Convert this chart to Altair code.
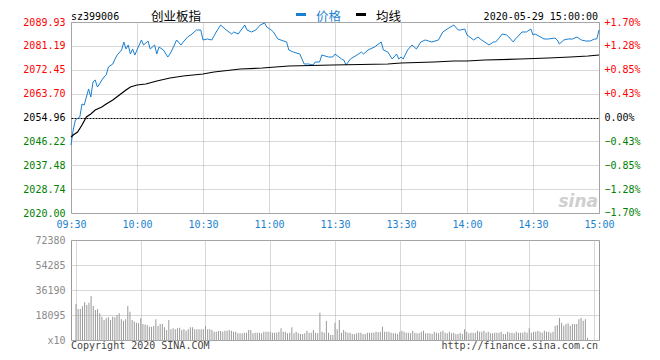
import altair as alt
import pandas as pd

prev_close = 2054.96
time_labels = ['09:30', '10:00', '10:30', '11:00', '11:30', '13:30', '14:00', '14:30', '15:00']
price_ticks = [2020.00, 2028.74, 2037.48, 2046.22, 2054.96, 2063.70, 2072.45, 2081.19, 2089.93]
pct_ticks = [-1.70, -1.28, -0.85, -0.43, 0.00, 0.43, 0.85, 1.28, 1.70]
vol_ticks = [0, 18095, 36190, 54285, 72380]

# price (minute index from 09:30, 0..240)
price_min = [0, 1, 2, 4, 5, 6, 7, 8, 9, 10, 11, 12, 13, 14, 15, 16, 17, 19, 20, 21,
             23, 24, 25, 26, 27, 28, 29, 30, 32, 33, 35, 36, 38, 39, 40, 42, 44, 45, 47, 48,
             50, 51, 53, 55, 57, 59, 60, 62, 64, 66, 68, 70, 73, 74, 76, 79, 80, 82, 84, 86,
             88, 89, 91, 92, 94, 98, 99, 101, 104, 106, 108, 110, 111, 113, 114, 117, 119, 120, 123, 124,
             125, 127, 130, 132, 133, 135, 138, 141, 142, 144, 146, 148, 149, 150, 151, 153, 155, 157, 159, 161,
             164, 167, 169, 171, 174, 176, 177, 179, 180, 183, 185, 186, 190, 192, 193, 195, 196, 198, 199, 201,
             202, 205, 207, 209, 210, 211, 215, 217, 220, 221, 222, 224, 226, 228, 230, 232, 234, 236, 238, 239,
             240]
price_val = [2044.90, 2050.39, 2054.05, 2055.15, 2059.91, 2059.54, 2062.47, 2065.40, 2062.47, 2067.96,
             2068.69, 2066.13, 2067.23, 2068.69, 2069.79, 2070.52, 2073.45, 2074.55, 2076.38, 2077.85,
             2079.68, 2082.61, 2080.04, 2081.51, 2078.21, 2080.04, 2077.85, 2079.68, 2083.34, 2081.51,
             2082.97, 2080.04, 2081.51, 2078.21, 2080.78, 2079.68, 2077.11, 2078.21, 2081.51, 2083.34,
             2081.51, 2082.61, 2084.44, 2085.54, 2087.00, 2087.00, 2083.34, 2083.71, 2083.34, 2086.27,
             2088.83, 2087.37, 2085.54, 2086.27, 2085.54, 2088.83, 2087.00, 2086.27, 2087.00, 2088.83,
             2089.56, 2088.10, 2087.00, 2086.27, 2083.71, 2082.61, 2079.68, 2078.95, 2078.21, 2074.55,
             2074.55, 2074.19, 2075.29, 2075.29, 2077.85, 2077.11, 2077.11, 2078.21, 2076.38, 2076.02,
             2074.19, 2076.38, 2077.85, 2078.95, 2078.21, 2079.68, 2080.78, 2082.61, 2079.68, 2078.95,
             2076.38, 2078.21, 2076.38, 2077.11, 2076.38, 2079.68, 2081.51, 2080.04, 2082.61, 2083.34,
             2082.61, 2083.34, 2086.27, 2087.37, 2088.83, 2087.00, 2087.00, 2087.37, 2085.17, 2083.34,
             2084.44, 2083.71, 2081.51, 2082.61, 2082.61, 2084.44, 2085.54, 2085.17, 2084.44, 2082.61,
             2083.71, 2086.27, 2086.27, 2087.37, 2085.17, 2085.54, 2083.71, 2083.71, 2084.07, 2083.34,
             2081.88, 2083.34, 2083.71, 2083.71, 2084.44, 2083.34, 2082.97, 2082.97, 2083.71, 2083.71,
             2087.00]

# average price line
avg_min = [0, 1, 3, 5, 7, 9, 11, 14, 16, 19, 22, 25, 27, 30, 34, 39, 45, 51, 60, 65,
           77, 87, 99, 119, 144, 150, 165, 174, 180, 188, 204, 217, 227, 235, 240]
avg_val = [2047.83, 2048.56, 2049.66, 2052.22, 2055.15, 2056.25, 2057.71, 2058.81, 2059.91, 2061.37,
           2063.20, 2065.03, 2066.13, 2066.86, 2067.23, 2068.33, 2069.43, 2070.16, 2070.89, 2071.62,
           2072.72, 2073.09, 2073.82, 2074.19, 2074.55, 2074.92, 2075.29, 2075.65, 2075.65, 2076.02,
           2076.38, 2076.75, 2077.11, 2077.48, 2077.85]

# volume per minute (x10)
volume = [26000, 22400, 22400, 24400, 27300, 25300, 27000, 31900, 24600, 21700,
          22400, 19300, 16900, 14500, 15700, 16400, 14500, 16900, 16400, 18100,
          19300, 15000, 14000, 15000, 24600, 20500, 14500, 13300, 12500, 12100,
          15700, 11600, 11300, 10900, 9650, 9650, 10100, 15000, 10100, 11600,
          11600, 9170, 7240, 14500, 7720, 8440, 7720, 8440, 8920, 7240,
          7720, 6760, 7720, 9170, 9170, 7720, 7720, 7720, 7720, 7720,
          10100, 7720, 7720, 7240, 6030, 6030, 6510, 6510, 6030, 6760,
          6760, 7240, 6760, 6030, 6030, 4830, 4830, 4830, 5310, 5310,
          7240, 7240, 4830, 5310, 5310, 5310, 4830, 6030, 6030, 6030,
          6030, 5310, 5310, 5310, 6030, 8440, 6030, 6030, 4830, 5310,
          9170, 4830, 6030, 4830, 4340, 4340, 4830, 6760, 5310, 5310,
          7240, 5310, 4830, 19800, 6030, 5310, 13750, 5310, 3620, 3620,
          12550, 7720, 14500, 5310, 7240, 6030, 5310, 5310, 4340, 4100,
          4830, 5310, 5310, 4340, 4340, 5310, 5310, 5310, 5310, 6030,
          5550, 6030, 9650, 6030, 6030, 6030, 5310, 4830, 4830, 4340,
          6030, 6760, 6030, 5310, 5310, 4830, 6760, 5310, 4830, 4830,
          6030, 6760, 4830, 4830, 4830, 4340, 6030, 5310, 4830, 6030,
          6760, 5310, 4830, 6030, 4830, 5310, 4340, 4340, 5310, 4340,
          7720, 6030, 4830, 5310, 5310, 5310, 6760, 6030, 6030, 6760,
          5310, 6030, 4830, 4830, 5310, 5310, 5310, 6030, 4340, 4340,
          6030, 5310, 5310, 4830, 6030, 5310, 5310, 5310, 6030, 5310,
          8440, 5310, 6030, 6030, 6760, 6030, 5310, 6760, 6030, 6030,
          5310, 6030, 10100, 10900, 15900, 12550, 10400, 11600, 12100, 10400,
          11600, 11600, 11600, 15000, 15900, 14000, 15000, 1690]

price_df = pd.DataFrame({"minute": price_min, "price": price_val})
avg_df = pd.DataFrame({"minute": avg_min, "price": avg_val})
vol_df = pd.DataFrame({"minute": list(range(len(volume))), "volume": volume})

W, H1, H2 = 528, 191, 100
BLUE = "#1a7fd0"
MONO = "DejaVu Sans Mono"
CJK = "Noto Sans CJK SC"
GRID = "#b0b0b0"

time_expr = "[" + ",".join("'%s'" % t for t in time_labels) + "][round(datum.value/30)]"
x_values = list(range(0, 241, 30))

x_top = alt.X("minute:Q", scale=alt.Scale(domain=[0, 240], nice=False, zero=False),
              axis=alt.Axis(values=x_values, labelExpr=time_expr, labelColor=BLUE,
                            labelFont=MONO, labelFontSize=10, labelPadding=6,
                            labelFlush=False, labelOverlap=False, grid=True,
                            gridColor=GRID, gridDash=[1, 1], ticks=False, domain=False,
                            title=None))

is_prev = "abs(datum.value - %s) < 0.01" % prev_close
y_price = alt.Y("price:Q", scale=alt.Scale(domain=[price_ticks[0], price_ticks[-1]], nice=False, zero=False),
                axis=alt.Axis(values=price_ticks, format=".2f", labelFont=MONO, labelFontSize=10,
                              labelPadding=6, labelFlush=False, labelOverlap=False,
                              labelColor={"condition": [
                                  {"test": "datum.value > %s" % (prev_close + 0.01), "value": "#ff0000"},
                                  {"test": "datum.value < %s" % (prev_close - 0.01), "value": "#008000"}],
                                  "value": "#000000"},
                              grid=True,
                              gridColor={"condition": {"test": is_prev, "value": "#000000"}, "value": GRID},
                              gridDash={"condition": {"test": is_prev, "value": [2, 1]}, "value": [1, 1]},
                              ticks=False, domain=False, title=None))

price_line = alt.Chart(price_df).mark_line(color=BLUE, strokeWidth=1).encode(x=x_top, y=y_price)
avg_line = alt.Chart(avg_df).mark_line(color="#000000", strokeWidth=1.2).encode(x=x_top, y=y_price)

pct_dom = (price_ticks[-1] - prev_close) / prev_close * 100
pct_layer = alt.Chart(price_df).transform_calculate(
    pct="(datum.price - %s) / %s * 100" % (prev_close, prev_close)
).mark_line(opacity=0).encode(
    x=x_top,
    y=alt.Y("pct:Q", scale=alt.Scale(domain=[-pct_dom, pct_dom], nice=False, zero=False),
            axis=alt.Axis(orient="right", values=pct_ticks, labelFont=MONO, labelFontSize=10,
                          labelPadding=5, labelFlush=False, labelOverlap=False,
                          labelExpr="datum.value > 0.001 ? '+' + format(datum.value, '.2f') + '%' : (datum.value < -0.001 ? format(datum.value, '.2f') + '%' : '0.00%')",
                          labelColor={"condition": [
                              {"test": "datum.value > 0.001", "value": "#ff0000"},
                              {"test": "datum.value < -0.001", "value": "#008000"}],
                              "value": "#000000"},
                          grid=False, ticks=False, domain=False, title=None))
)


def label(txt, x, y, color="#000000", font=MONO, size=10, align="left", **kw):
    return alt.Chart(pd.DataFrame({"t": [txt]})).mark_text(
        align=align, baseline="middle", font=font, fontSize=size, color=color, **kw
    ).encode(text="t:N", x=alt.value(x), y=alt.value(y))


def dash(x1, x2, y, color):
    return alt.Chart(pd.DataFrame({"a": [0]})).mark_rule(color=color, strokeWidth=3).encode(
        x=alt.value(x1), x2=alt.value(x2), y=alt.value(y))


HY = -5
header = [
    label("sz399006", 0, HY),
    label("创业板指", 80, HY, font=CJK, size=12.5),
    dash(225, 235, -7.5, BLUE),
    label("价格", 245, HY, color=BLUE, font=CJK, size=12.5),
    dash(285, 295, -7.5, "#000000"),
    label("均线", 305, HY, font=CJK, size=12.5),
    label("2020-05-29 15:00:00", 527, HY, align="right"),
    label("sina", 527, 180, color="#cfcfcf", font="DejaVu Sans", size=17, align="right",
          fontStyle="italic", fontWeight="bold"),
]

top = alt.layer(alt.layer(price_line, avg_line), pct_layer, *header).resolve_scale(
    y="independent").properties(width=W, height=H1)

x_vol = alt.X("minute:Q", scale=alt.Scale(domain=[0, 240], nice=False, zero=False),
              axis=alt.Axis(values=x_values, labels=False, ticks=False, domain=False, grid=True,
                            gridColor=GRID, gridDash=[1, 1], title=None))
y_vol = alt.Y("volume:Q", scale=alt.Scale(domain=[vol_ticks[0], vol_ticks[-1]], nice=False),
              axis=alt.Axis(values=vol_ticks, labelFont=MONO, labelFontSize=10, labelColor="#8a8a8a",
                            labelPadding=6, labelFlush=False, labelOverlap=False,
                            labelExpr="datum.value == 0 ? 'x10' : format(datum.value, 'd')",
                            grid=True, gridColor=GRID, gridDash=[1, 1], ticks=False, domain=False,
                            title=None))

bars = alt.Chart(vol_df).mark_bar(size=1, color="#999999").encode(x=x_vol, y=y_vol)
footer = [
    label("Copyright 2020 SINA.COM", 0, 106, color="#444444"),
    label("http://finance.sina.com.cn", 527, 106, color="#444444", align="right"),
]
bottom = alt.layer(bars, *footer).properties(width=W, height=H2)

chart = alt.vconcat(top, bottom, spacing=4).properties(
    padding={"left": 14, "top": 2, "right": 5, "bottom": 5}
).configure_view(stroke="#999999", strokeWidth=1)

chart.save("out.html", embed_options={"renderer": "svg", "actions": False})
